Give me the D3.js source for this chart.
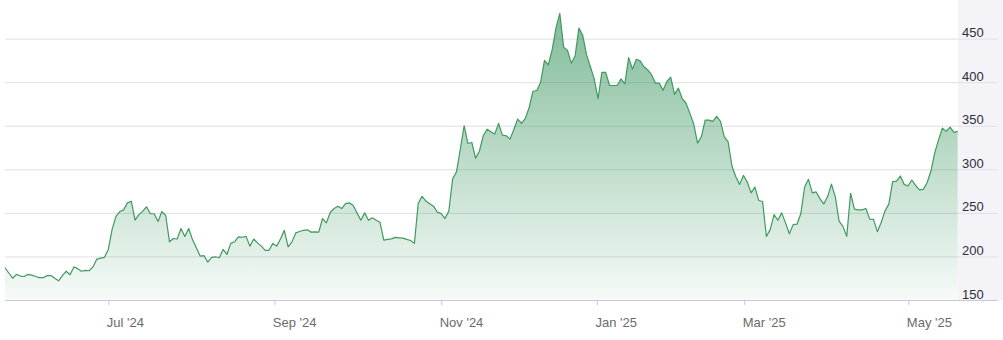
<!DOCTYPE html>
<html>
<head>
<meta charset="utf-8">
<script src="https://cdn.jsdelivr.net/npm/d3@7"></script>
<style>
    body { margin: 0; background: #fff; }
    svg text { font-family: Arial, "Liberation Sans", sans-serif; }
</style>
</head>
<body>
<div id="renderer"></div>
<script>
// daily closes, one year
var values = [
    187, 181, 175, 179.4, 177.5, 177, 179.4, 178.6, 177, 175.6, 175.6, 178, 178, 175, 172, 178, 183, 179, 188, 186,
    183, 184, 183.6, 188, 197, 198, 199, 208, 231, 246, 251.5, 253.4, 261.5, 263.4, 241.6, 248, 252,
    257, 249, 249, 240, 251.5, 247, 216.8, 220.6, 220, 232, 223, 232, 219.5, 210, 200.4, 201, 193.5, 199, 199.6, 198.5,
    208, 202.3, 215, 216.8, 222.5, 222, 223, 211.8, 220, 215.6, 211.8, 207, 207, 215, 211.8, 220, 230,
    211, 216.8, 227, 228.6, 230, 230.5, 227.9, 228.2, 227.9, 243.5, 238.5, 250.4, 255, 257.6, 255, 260.7, 261.5, 258.4,
    250, 241.6, 250, 241.6, 244.3, 241.6, 239.3, 218.7, 219.5, 220.2, 221.8, 221.4, 221, 219.5, 218.3, 215, 260.7, 269,
    263.5, 260.4, 257.7, 250.8, 249.2, 243.5, 252, 289.2, 297, 323, 350, 329.6, 330.8, 312.7, 321, 338.5, 346, 343,
    340.4, 352.7, 339.2, 338.5, 334.6, 346, 357.7, 352.7, 358.5, 371, 389.6, 390.4, 400, 425, 420, 437,
    462, 479, 440.2, 436.8, 421.8, 430, 462, 453.8, 431.2, 417.7, 403.8, 381, 411.3, 411.3, 396.2, 396.2, 396.2, 403.8,
    398, 428.2, 415, 426.3, 424.4, 417.7, 414, 408.3, 398.9, 398.9, 390.6, 401, 405.6, 386, 393.2, 381.2,
    375.8, 364.2, 352, 330, 337.3, 356.5, 356.5, 355, 360.8, 355, 337.3, 331.5, 303.8, 291.5, 282.7, 293, 285.4, 273,
    279.6, 264.2, 263, 223, 230.8, 248, 241.5, 250, 238.5, 226, 236.5, 237, 249.2, 280, 288.5, 273,
    274, 266.4, 260.3, 268.7, 283, 268.7, 240.6, 234.5, 223, 272.5, 254.2, 253.5, 253.5, 255, 242.8, 242.5, 228.4, 239,
    252.3, 260, 285.8, 286.5, 292.2, 282.7, 280.8, 287.7, 281.6, 276.3, 277, 284.6, 298, 318.8, 334, 347.3, 343.5,
    348.5, 342.4, 343.5
];

var monthLabels = ["Jul '24", "Sep '24", "Nov '24", "Jan '25", "Mar '25", "May '25"];
var monthAt = [27, 70.4, 114, 154.7, 193.2, 236.1];   // position in trading days
var priceTicks = [150, 200, 250, 300, 350, 400, 450];

var width = 1003, height = 340;
var plotLeft = 5, plotRight = 958, gridRight = 998, plotBottom = 300;

var root = d3.select('#renderer').append('svg')
    .attr('width', width)
    .attr('height', height);

var x = d3.scaleLinear().domain([0, values.length - 1]).range([plotLeft, 957.7]);
var y = d3.scaleLinear().domain([150, 450]).range([plotBottom, 38.6]);

// fill gradient
var grad = root.append('defs').append('linearGradient')
    .attr('id', 'fade')
    .attr('gradientUnits', 'userSpaceOnUse')
    .attr('x1', 0).attr('y1', 0)
    .attr('x2', 0).attr('y2', plotBottom);
grad.append('stop').attr('offset', 0).attr('stop-color', 'rgb(40,140,80)').attr('stop-opacity', 0.61);
grad.append('stop').attr('offset', 1).attr('stop-color', 'rgb(40,140,80)').attr('stop-opacity', 0.04);

// label band on the right
root.append('rect')
    .attr('x', plotRight).attr('y', 0)
    .attr('width', width - plotRight).attr('height', plotBottom)
    .attr('fill', '#f4f3f8');

// horizontal grid
var grid = root.append('g')
    .attr('transform', 'translate(' + plotLeft + ',0)')
    .call(d3.axisRight(y).tickValues(priceTicks.slice(1)).tickSize(gridRight - plotLeft).tickFormat(''));
grid.select('.domain').remove();
grid.selectAll('line').attr('stroke', '#e0e0e5').attr('stroke-width', 1);

// area + line
var area = d3.area()
    .x(function(d, i) { return x(i); })
    .y0(plotBottom)
    .y1(function(d) { return y(d); });

var line = d3.line()
    .x(function(d, i) { return x(i); })
    .y(function(d) { return y(d); });

root.append('path')
    .datum(values)
    .attr('d', area)
    .attr('fill', 'url(#fade)');

root.append('path')
    .datum(values)
    .attr('d', line)
    .attr('fill', 'none')
    .attr('stroke', '#3f9a5f')
    .attr('stroke-width', 1.2)
    .attr('stroke-linejoin', 'round');

// y labels
var yAxis = root.append('g')
    .attr('transform', 'translate(962,0)')
    .call(d3.axisRight(y).tickValues(priceTicks).tickSize(0).tickPadding(0));
yAxis.select('.domain').remove();
yAxis.selectAll('text')
    .attr('dy', '-2')
    .attr('font-size', 13)
    .attr('fill', '#2e2e3a')
    .style('font-family', 'Arial, "Liberation Sans", sans-serif');

// x axis
var xAxis = root.append('g')
    .attr('transform', 'translate(0,' + plotBottom + ')')
    .call(d3.axisBottom(x).tickValues(monthAt).tickSize(5)
        .tickFormat(function(d, i) { return monthLabels[i]; }));
xAxis.select('.domain')
    .attr('d', 'M' + plotLeft + ',0.5H' + gridRight)
    .attr('stroke', '#c8c8d2');
xAxis.selectAll('.tick line').attr('stroke', '#c8c8d2');
xAxis.selectAll('.tick text')
    .attr('text-anchor', 'start')
    .attr('x', -2)
    .attr('y', 18)
    .attr('dy', '0.71em')
    .attr('font-size', 13)
    .attr('fill', '#6b6b6b')
    .style('font-family', 'Arial, "Liberation Sans", sans-serif');
</script>
</body>
</html>
